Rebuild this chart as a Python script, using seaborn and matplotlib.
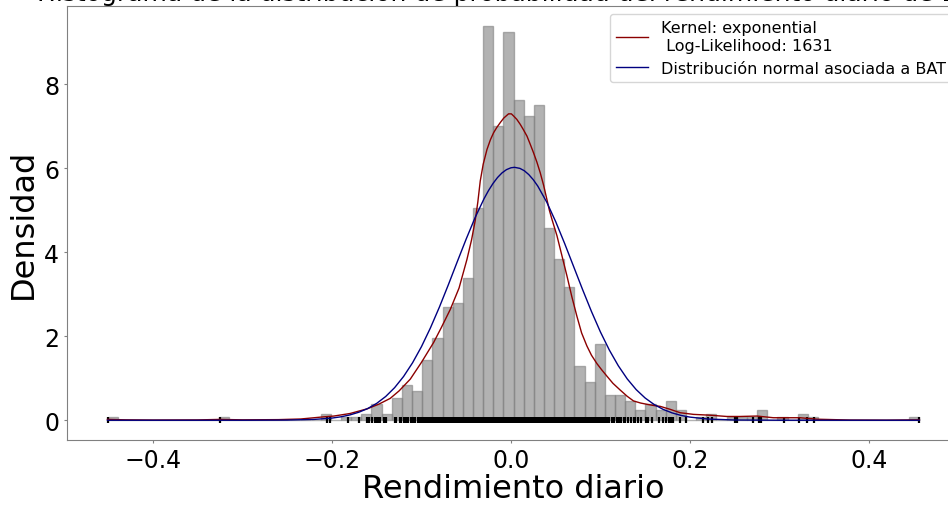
import numpy as np
import pandas as pd
import seaborn as sns
import matplotlib.pyplot as plt

TITLE = "Histograma de la distribución de probabilidad del rendimiento diario de BAT"
KDE_LABEL = "Kernel: exponential\n Log-Likelihood: 1631"
NORMAL_LABEL = "Distribución normal asociada a BAT"

# rango de los rendimientos y alturas (densidad) de los 80 bins
data_min = -0.4508
data_max = 0.4566
bin_heights = [
    0.07, 0, 0, 0, 0, 0, 0, 0, 0, 0,
    0, 0.07, 0, 0, 0, 0, 0, 0, 0, 0,
    0, 0.14, 0, 0.07, 0.07, 0.14, 0.38, 0.14, 0.52, 0.83,
    0.69, 1.43, 1.95, 2.71, 2.79, 3.38, 5.05, 9.40, 7.01, 9.26,
    7.62, 7.24, 7.52, 4.59, 3.83, 3.17, 1.29, 0.91, 1.81, 0.60,
    0.60, 0.45, 0.24, 0.38, 0.24, 0.45, 0.24, 0, 0.07, 0.14,
    0, 0.07, 0.07, 0.07, 0.24, 0, 0.07, 0, 0.14, 0.07,
    0, 0, 0, 0, 0, 0, 0, 0, 0, 0.07,
]

# curva KDE (kernel exponencial)
kde_x = [-0.451, -0.43, -0.40, -0.35, -0.326, -0.30, -0.26, -0.235, -0.21, -0.198,
         -0.18, -0.161, -0.148, -0.135, -0.125, -0.1125, -0.10, -0.0865, -0.078, -0.0678,
         -0.058, -0.0492, -0.044, -0.040, -0.037, -0.0343, -0.031, -0.0268, -0.023, -0.0194,
         -0.016, -0.012, -0.008, -0.0027, 0.0005, 0.0029, 0.0065, 0.0104, 0.014, 0.0179,
         0.0215, 0.0253, 0.029, 0.0327, 0.0365, 0.0402, 0.043, 0.0458, 0.0514, 0.057,
         0.0626, 0.068, 0.0737, 0.079, 0.0849, 0.090, 0.0961, 0.1015, 0.1073, 0.114,
         0.1221, 0.130, 0.137, 0.145, 0.152, 0.160, 0.167, 0.178, 0.189, 0.204,
         0.2227, 0.2413, 0.256, 0.275, 0.2934, 0.3232, 0.342, 0.379, 0.42, 0.4566]
kde_y = [0.02, 0.01, 0.005, 0.008, 0.02, 0.01, 0.015, 0.03, 0.08, 0.10,
         0.16, 0.27, 0.38, 0.52, 0.70, 0.98, 1.38, 1.85, 2.20, 2.64,
         3.15, 3.83, 4.30, 4.75, 5.20, 5.70, 6.10, 6.45, 6.68, 6.85,
         6.97, 7.09, 7.20, 7.30, 7.30, 7.25, 7.17, 7.05, 6.92, 6.77,
         6.58, 6.37, 6.15, 5.90, 5.60, 5.26, 5.00, 4.79, 4.40, 3.92,
         3.44, 2.95, 2.48, 2.08, 1.77, 1.55, 1.35, 1.20, 1.05, 0.88,
         0.72, 0.57, 0.46, 0.41, 0.38, 0.35, 0.33, 0.26, 0.18, 0.14,
         0.12, 0.09, 0.09, 0.10, 0.06, 0.06, 0.025, 0.005, 0.002, 0.01]

# normal asociada
norm_x = [-0.451, -0.35, -0.30, -0.25, -0.22, -0.20, -0.19, -0.18, -0.17, -0.16,
          -0.15, -0.14, -0.13, -0.12, -0.11, -0.10, -0.09, -0.08, -0.07, -0.06,
          -0.05, -0.04, -0.03, -0.025, -0.02, -0.015, -0.01, -0.005, 0.00, 0.004,
          0.01, 0.015, 0.02, 0.025, 0.03, 0.04, 0.05, 0.06, 0.07, 0.08,
          0.09, 0.10, 0.11, 0.12, 0.13, 0.14, 0.15, 0.16, 0.17, 0.18,
          0.19, 0.20, 0.22, 0.25, 0.30, 0.35, 0.4566]
norm_y = [0.0, 0.0, 0.0002, 0.004, 0.020, 0.052, 0.082, 0.127, 0.191, 0.280,
          0.403, 0.566, 0.777, 1.043, 1.368, 1.754, 2.200, 2.694, 3.226, 3.777,
          4.319, 4.831, 5.281, 5.475, 5.643, 5.783, 5.893, 5.971, 6.015, 6.026,
          6.001, 5.944, 5.852, 5.730, 5.579, 5.198, 4.733, 4.213, 3.666, 3.118,
          2.592, 2.105, 1.672, 1.299, 0.985, 0.730, 0.530, 0.376, 0.260, 0.176,
          0.116, 0.075, 0.029, 0.006, 0.0003, 0.0, 0.0]

# observaciones (rug)
rug_x = [
    -0.4507, -0.3256, -0.2060, -0.2027, -0.1820, -0.1700, -0.1610, -0.1585, -0.1550, -0.1520,
    -0.1500, -0.1478, -0.1460, -0.1420, -0.1400, -0.1300, -0.1280, -0.1245, -0.1226, -0.1200,
    -0.1170, -0.1155,
    -0.112, -0.110, -0.108, -0.107, -0.104, -0.102, -0.100, -0.099, -0.097, -0.095, -0.094, -0.092, -0.090, -0.089, -0.087,
    -0.085, -0.084, -0.082, -0.080, -0.079, -0.077, -0.075, -0.074, -0.072, -0.071, -0.069, -0.067, -0.066, -0.064, -0.063,
    -0.061, -0.059, -0.058, -0.056, -0.055, -0.053, -0.051, -0.050, -0.048, -0.047, -0.045, -0.043, -0.042, -0.040, -0.039,
    -0.037, -0.035, -0.034, -0.032, -0.031, -0.029, -0.027, -0.026, -0.024, -0.023, -0.021, -0.019, -0.018, -0.016, -0.015,
    -0.013, -0.011, -0.010, -0.008, -0.007, -0.005, -0.003, -0.002, 0.000, 0.001, 0.003, 0.005, 0.006, 0.008, 0.009,
    0.011, 0.013, 0.014, 0.016, 0.017, 0.019, 0.021, 0.022, 0.024, 0.025, 0.027, 0.029, 0.030, 0.032, 0.033,
    0.035, 0.037, 0.038, 0.040, 0.041, 0.043, 0.045, 0.046, 0.048, 0.049, 0.051, 0.053, 0.054, 0.056, 0.057,
    0.059, 0.061, 0.062, 0.064, 0.065, 0.067, 0.069, 0.070, 0.072, 0.073, 0.075, 0.077, 0.078, 0.080, 0.081,
    0.083, 0.085, 0.086, 0.088, 0.089, 0.091, 0.093, 0.094, 0.096, 0.098, 0.100, 0.102, 0.104, 0.106, 0.108,
    0.110, 0.113, 0.115, 0.118, 0.121, 0.123, 0.126, 0.128, 0.131, 0.134, 0.137,
    0.1390, 0.1420, 0.1450, 0.1508, 0.1537, 0.1575, 0.1660, 0.1705, 0.1732, 0.1769,
    0.1791, 0.1813, 0.1892, 0.1959, 0.2152, 0.2208, 0.2246, 0.2506, 0.2532, 0.2711,
    0.2778, 0.2793, 0.3054, 0.3225, 0.3311, 0.3392, 0.4566,
]

bin_edges = np.linspace(data_min, data_max, len(bin_heights) + 1)
hist_df = pd.DataFrame({
    "centro": (bin_edges[:-1] + bin_edges[1:]) / 2,
    "densidad": bin_heights,
})

fig = plt.figure(figsize=(9.48, 5.06), dpi=100)
ax = fig.add_axes([0.0707, 0.1285, 0.942, 0.8577])

sns.histplot(data=hist_df, x="centro", weights="densidad", bins=bin_edges.tolist(), stat="count",
             color="gray", alpha=0.6, edgecolor=(0.5, 0.5, 0.5, 0.6), linewidth=1, ax=ax)
ax.plot(rug_x, np.zeros(len(rug_x)), "|k", markersize=4.5, markeredgewidth=1.6)
sns.lineplot(x=kde_x, y=kde_y, color="darkred", linewidth=1, label=KDE_LABEL, ax=ax)
sns.lineplot(x=norm_x, y=norm_y, color="navy", linewidth=1, label=NORMAL_LABEL, ax=ax)

ax.set_xlim(-0.4962, 0.5020)
ax.set_ylim(-0.47, 9.87)
ax.set_title(TITLE, fontsize=18, pad=4)
ax.set_xlabel("Rendimiento diario", fontsize=23, labelpad=1)
ax.set_ylabel("Densidad", fontsize=23)
ax.tick_params(labelsize=17, color="gray", length=2.2)
for s in ax.spines.values():
    s.set_color("gray")
ax.legend(loc="upper right", fontsize=11.5)

fig.savefig("out.png", dpi=100)
